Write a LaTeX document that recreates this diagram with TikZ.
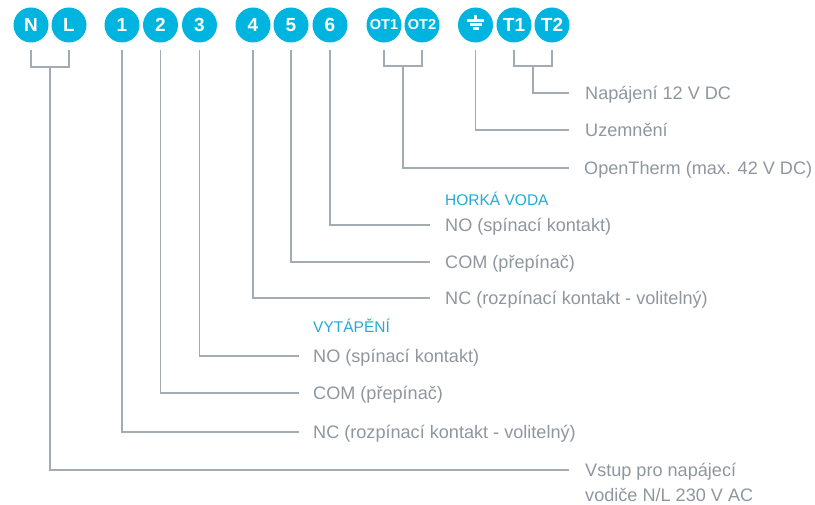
\documentclass[tikz,border=0pt]{standalone}
\usepackage{fontspec}
\setmainfont{Liberation Sans}
\usetikzlibrary{positioning}
\definecolor{termcyan}{HTML}{00B4E0}
\definecolor{headcyan}{HTML}{22A9D7}
\definecolor{descgray}{HTML}{8E969E}
\definecolor{wiregray}{HTML}{A4ACB3}
\tikzset{
  terminal/.style={circle, fill=termcyan, text=white, minimum size=35pt, inner sep=0pt,
    font=\fontsize{19}{19}\selectfont\bfseries},
  wire/.style={wiregray, line width=1.4pt},
  desc/.style={anchor=west, inner sep=0pt, text=descgray, text height=13pt, text depth=0pt,
    font=\fontsize{18.1}{22}\selectfont},
  head/.style={anchor=west, inner sep=0pt, text=headcyan, text height=11pt, text depth=0pt,
    font=\fontsize{15.5}{18}\selectfont},
}
\begin{document}
\begin{tikzpicture}[x=1pt,y=-1pt]
\useasboundingbox (0,0) rectangle (815,505);
% terminals
\foreach \name/\x/\txt in {N/31/N,L/69/L,c1/122/1,c2/160.5/2,c3/199.5/3,c4/253/4,c5/291/5,c6/330/6,t1/514/T1,t2/552/T2}
  \node[terminal] (\name) at (\x,25) {\txt};
\node[terminal, font=\fontsize{14.5}{15}\selectfont\bfseries] (ot1) at (384,25) {OT1};
\node[terminal, font=\fontsize{14.5}{15}\selectfont\bfseries] (ot2) at (422,25) {OT2};
\node[terminal] (gnd) at (475.5,25) {};
\begin{scope}[shift={(gnd.center)}, white, line width=2.2pt]
\draw (0,-10) -- (0,-4.5);
\draw (-8.5,-4.5) -- (8.5,-4.5);
\draw (-6,-0.5) -- (6,-0.5);
\draw (-3,3.5) -- (3,3.5);
\end{scope}
% descriptions
\node[desc] (napajeni) at (585,93) {Napájení 12 V DC};
\node[desc] (uzem) at (585,130) {Uzemnění};
\node[desc] (opentherm) at (584,168) {OpenTherm (max. 42 V DC)};
\node[head] (horka) at (445,200) {HORKÁ VODA};
\node[desc] (no2) at (445,225) {NO (spínací kontakt)};
\node[desc] (com2) at (445,262) {COM (přepínač)};
\node[desc] (nc2) at (445,298) {NC (rozpínací kontakt - volitelný)};
\node[head] (vytapeni) at (313,327) {VYTÁPĚNÍ};
\node[desc] (no1) at (313,356) {NO (spínací kontakt)};
\node[desc] (com1) at (313,393) {COM (přepínač)};
\node[desc] (nc1) at (313,432) {NC (rozpínací kontakt - volitelný)};
\node[desc] (vstup) at (585,470) {Vstup pro napájecí};
\node[desc] (vodice) at (585,495) {vodiče N/L 230 V AC};
% wires
\draw[wire] ([yshift=-7pt]N.south) -- (N |- 0,67) -- (L |- 0,67) -- ([yshift=-7pt]L.south);
\coordinate (nl) at (50,67);
\draw[wire] (nl) |- ([xshift=-16pt]vstup.west);
\draw[wire] ([yshift=-7pt]c1.south) |- ([xshift=-14pt]nc1.west);
\draw[wire] ([yshift=-7pt]c2.south) |- ([xshift=-14pt]com1.west);
\draw[wire] ([yshift=-7pt]c3.south) |- ([xshift=-14pt]no1.west);
\draw[wire] ([yshift=-7pt]c4.south) |- ([xshift=-15pt]nc2.west);
\draw[wire] ([yshift=-7pt]c5.south) |- ([xshift=-15pt]com2.west);
\draw[wire] ([yshift=-7pt]c6.south) |- ([xshift=-15pt]no2.west);
\draw[wire] ([yshift=-7pt]ot1.south) -- (ot1 |- 0,66) -- (ot2 |- 0,66) -- ([yshift=-7pt]ot2.south);
\coordinate (ot) at (403,66);
\draw[wire] (ot) |- ([xshift=-15pt]opentherm.west);
\draw[wire] ([yshift=-7pt]gnd.south) |- ([xshift=-16pt]uzem.west);
\draw[wire] ([yshift=-7pt]t1.south) -- (t1 |- 0,66) -- (t2 |- 0,66) -- ([yshift=-7pt]t2.south);
\coordinate (tt) at (533,66);
\draw[wire] (tt) |- ([xshift=-16pt]napajeni.west);
\end{tikzpicture}
\end{document}
